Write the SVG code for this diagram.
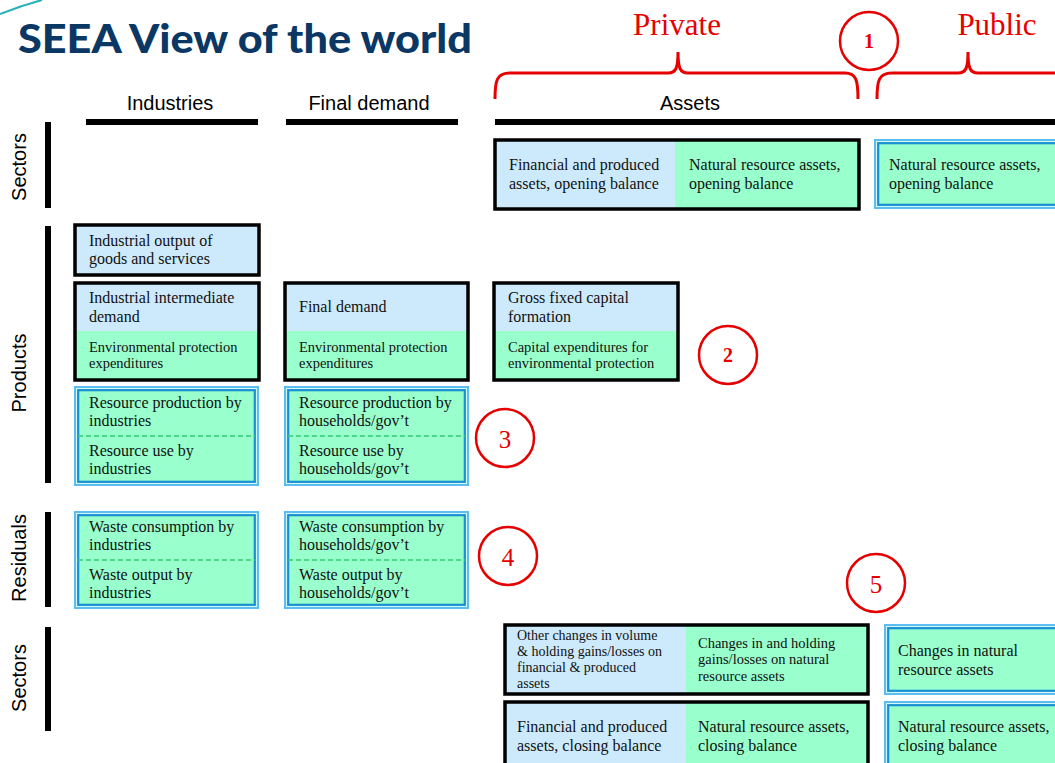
<svg xmlns="http://www.w3.org/2000/svg" width="1055" height="763" viewBox="0 0 1055 763">
<style>
.bg{fill:#ffffff}
.title{font-family:Lato,"Open Sans","Liberation Sans",sans-serif;font-weight:900;font-size:40px;fill:#0b3764}
.hdr{font-family:"Liberation Sans",Arial,sans-serif;font-size:20px;fill:#000}
.red{font-family:"Liberation Serif","Times New Roman",serif;font-size:31px;fill:#e60000}
.num{font-family:"Liberation Serif","Times New Roman",serif;font-size:25px;fill:#e60000;text-anchor:middle}
.nums{font-family:"Liberation Serif","Times New Roman",serif;font-size:20px;font-weight:bold;fill:#e60000;text-anchor:middle}
.circ{fill:none;stroke:#e60000;stroke-width:2.5}
.brace{fill:none;stroke:#e60000;stroke-width:3}
.bar{fill:#000}
.t{font-family:"Liberation Serif","Times New Roman",serif;font-size:16px;fill:#111}
.ts{font-family:"Liberation Serif","Times New Roman",serif;font-size:14.5px;fill:#111}
.tx{font-family:"Liberation Serif","Times New Roman",serif;font-size:14px;fill:#111}
.blue{fill:#cdeafc}
.green{fill:#99ffcc}
.blk{fill:none;stroke:#000;stroke-width:3.5}
.o1{fill:none;stroke:#5cbef0;stroke-width:2}
.o2{fill:none;stroke:#dff6fc;stroke-width:0.9}
.o3{fill:none;stroke:#1a8fd4;stroke-width:2.2}
.dash{stroke:#33cc77;stroke-width:1.5;stroke-dasharray:5 3;fill:none}
</style>
<rect class="bg" x="0" y="0" width="1055" height="763"/>
<path d="M0,14 Q20,6 42,0" fill="none" stroke="#2ab0b8" stroke-width="2"/>
<text class="title" x="18" y="53" textLength="454" lengthAdjust="spacingAndGlyphs">SEEA View of the world</text>

<g id="headers">
<text class="hdr" x="170" y="110" text-anchor="middle">Industries</text>
<text class="hdr" x="369" y="110" text-anchor="middle">Final demand</text>
<text class="hdr" x="690" y="110" text-anchor="middle">Assets</text>
<rect class="bar" x="86" y="119" width="172" height="6"/>
<rect class="bar" x="286" y="119" width="172" height="6"/>
<rect class="bar" x="495" y="119" width="560" height="6"/>
<text class="hdr" transform="translate(26,167) rotate(-90)" text-anchor="middle">Sectors</text>
<text class="hdr" transform="translate(26,373) rotate(-90)" text-anchor="middle">Products</text>
<text class="hdr" transform="translate(26,558) rotate(-90)" text-anchor="middle">Residuals</text>
<text class="hdr" transform="translate(26,678) rotate(-90)" text-anchor="middle">Sectors</text>
<rect class="bar" x="45" y="122" width="6" height="86"/>
<rect class="bar" x="45" y="226" width="6" height="257"/>
<rect class="bar" x="45" y="512" width="6" height="95"/>
<rect class="bar" x="45" y="627" width="6" height="104"/>
</g>

<g id="connectors">
<path class="brace" d="M495,99 C495,80 497,73 510,73 L668,73 C676,73 678,68 678,52 C678,68 680,73 688,73 L845,73 C856,73 858,80 858,99"/>
<path class="brace" d="M877,99 C877,80 879,73 892,73 L958,73 C966,73 968,68 968,52 C968,68 970,73 978,73 L1058,73"/>
<text class="red" x="677" y="35" text-anchor="middle">Private</text>
<text class="red" x="997" y="35" text-anchor="middle">Public</text>
</g>

<g id="markers">
<circle class="circ" cx="869" cy="41" r="29"/><text class="nums" x="869" y="48">1</text>
<circle class="circ" cx="728" cy="355" r="29"/><text class="nums" x="728" y="362">2</text>
<circle class="circ" cx="505" cy="438" r="29"/><text class="num" x="505" y="448">3</text>
<circle class="circ" cx="508" cy="556" r="29"/><text class="num" x="508" y="566">4</text>
<circle class="circ" cx="876" cy="583" r="29"/><text class="num" x="876" y="593">5</text>
</g>

<g id="n-industrial-output">
<rect class="blue" x="75" y="225" width="184" height="50"/>
<rect class="blk" x="75" y="225" width="184" height="50"/>
<text class="t" x="89" y="246">Industrial output of</text>
<text class="t" x="89" y="264">goods and services</text>
</g>

<g id="n-industrial-intermediate">
<rect class="blue" x="75" y="283" width="184" height="48"/>
<rect class="green" x="75" y="331" width="184" height="49"/>
<rect class="blk" x="75" y="283" width="184" height="97"/>
<text class="t" x="89" y="303">Industrial intermediate</text>
<text class="t" x="89" y="322">demand</text>
<text class="ts" x="89" y="352">Environmental protection</text>
<text class="ts" x="89" y="368">expenditures</text>
</g>

<g id="n-final-demand">
<rect class="blue" x="285" y="283" width="183" height="48"/>
<rect class="green" x="285" y="331" width="183" height="49"/>
<rect class="blk" x="285" y="283" width="183" height="97"/>
<text class="t" x="299" y="312">Final demand</text>
<text class="ts" x="299" y="352">Environmental protection</text>
<text class="ts" x="299" y="368">expenditures</text>
</g>

<g id="n-gfcf">
<rect class="blue" x="494" y="283" width="184" height="48"/>
<rect class="green" x="494" y="331" width="184" height="49"/>
<rect class="blk" x="494" y="283" width="184" height="97"/>
<text class="t" x="508" y="303">Gross fixed capital</text>
<text class="t" x="508" y="322">formation</text>
<text class="ts" x="508" y="352">Capital expenditures for</text>
<text class="ts" x="508" y="368">environmental protection</text>
</g>

<g id="n-resource-industries">
<rect class="green" x="74" y="386" width="185" height="100"/>
<rect class="o1" x="75" y="387" width="183" height="98"/>
<rect class="o2" x="76.6" y="388.6" width="179.8" height="94.8"/>
<rect class="o3" x="78.2" y="390.2" width="176.6" height="91.6"/>
<line class="dash" x1="78" y1="436" x2="255" y2="436"/>
<text class="t" x="89" y="408">Resource production by</text>
<text class="t" x="89" y="426">industries</text>
<text class="t" x="89" y="456">Resource use by</text>
<text class="t" x="89" y="474">industries</text>
</g>

<g id="n-resource-households">
<rect class="green" x="284" y="386" width="185" height="100"/>
<rect class="o1" x="285" y="387" width="183" height="98"/>
<rect class="o2" x="286.6" y="388.6" width="179.8" height="94.8"/>
<rect class="o3" x="288.2" y="390.2" width="176.6" height="91.6"/>
<line class="dash" x1="288" y1="436" x2="465" y2="436"/>
<text class="t" x="299" y="408">Resource production by</text>
<text class="t" x="299" y="426">households/gov’t</text>
<text class="t" x="299" y="456">Resource use by</text>
<text class="t" x="299" y="474">households/gov’t</text>
</g>

<g id="n-waste-industries">
<rect class="green" x="74" y="511" width="185" height="98"/>
<rect class="o1" x="75" y="512" width="183" height="96"/>
<rect class="o2" x="76.6" y="513.6" width="179.8" height="92.8"/>
<rect class="o3" x="78.2" y="515.2" width="176.6" height="89.6"/>
<line class="dash" x1="78" y1="560" x2="255" y2="560"/>
<text class="t" x="89" y="532">Waste consumption by</text>
<text class="t" x="89" y="550">industries</text>
<text class="t" x="89" y="580">Waste output by</text>
<text class="t" x="89" y="598">industries</text>
</g>

<g id="n-waste-households">
<rect class="green" x="284" y="511" width="185" height="98"/>
<rect class="o1" x="285" y="512" width="183" height="96"/>
<rect class="o2" x="286.6" y="513.6" width="179.8" height="92.8"/>
<rect class="o3" x="288.2" y="515.2" width="176.6" height="89.6"/>
<line class="dash" x1="288" y1="560" x2="465" y2="560"/>
<text class="t" x="299" y="532">Waste consumption by</text>
<text class="t" x="299" y="550">households/gov’t</text>
<text class="t" x="299" y="580">Waste output by</text>
<text class="t" x="299" y="598">households/gov’t</text>
</g>

<g id="n-private-opening">
<rect class="blue" x="495" y="140" width="180" height="69"/>
<rect class="green" x="675" y="140" width="184" height="69"/>
<rect class="blk" x="495" y="140" width="364" height="69"/>
<text class="t" x="509" y="170">Financial and produced</text>
<text class="t" x="509" y="189">assets, opening balance</text>
<text class="t" x="689" y="170">Natural resource assets,</text>
<text class="t" x="689" y="189">opening balance</text>
</g>

<g id="n-public-opening">
<rect class="green" x="874" y="139" width="190" height="70"/>
<rect class="o1" x="875" y="140" width="190" height="68"/>
<rect class="o2" x="876.6" y="141.6" width="190" height="64.8"/>
<rect class="o3" x="878.2" y="143.2" width="190" height="61.6"/>
<text class="t" x="889" y="170">Natural resource assets,</text>
<text class="t" x="889" y="189">opening balance</text>
</g>

<g id="n-private-changes">
<rect class="blue" x="505" y="625" width="181" height="69"/>
<rect class="green" x="686" y="625" width="182" height="69"/>
<rect class="blk" x="505" y="625" width="363" height="69"/>
<text class="tx" x="517" y="640">Other changes in volume</text>
<text class="tx" x="517" y="656">&amp; holding gains/losses on</text>
<text class="tx" x="517" y="672">financial &amp; produced</text>
<text class="tx" x="517" y="688">assets</text>
<text class="ts" x="698" y="648">Changes in and holding</text>
<text class="ts" x="698" y="664">gains/losses on natural</text>
<text class="ts" x="698" y="681">resource assets</text>
</g>

<g id="n-private-closing">
<rect class="blue" x="505" y="702" width="181" height="70"/>
<rect class="green" x="686" y="702" width="182" height="70"/>
<rect class="blk" x="505" y="702" width="363" height="70"/>
<text class="t" x="517" y="732">Financial and produced</text>
<text class="t" x="517" y="751">assets, closing balance</text>
<text class="t" x="698" y="732">Natural resource assets,</text>
<text class="t" x="698" y="751">closing balance</text>
</g>

<g id="n-public-changes">
<rect class="green" x="884" y="624" width="190" height="71"/>
<rect class="o1" x="885" y="625" width="190" height="69"/>
<rect class="o2" x="886.6" y="626.6" width="190" height="65.8"/>
<rect class="o3" x="888.2" y="628.2" width="190" height="62.6"/>
<text class="t" x="898" y="656">Changes in natural</text>
<text class="t" x="898" y="675">resource assets</text>
</g>

<g id="n-public-closing">
<rect class="green" x="884" y="701" width="190" height="70"/>
<rect class="o1" x="885" y="702" width="190" height="70"/>
<rect class="o2" x="886.6" y="703.6" width="190" height="70"/>
<rect class="o3" x="888.2" y="705.2" width="190" height="70"/>
<text class="t" x="898" y="732">Natural resource assets,</text>
<text class="t" x="898" y="751">closing balance</text>
</g>
</svg>
